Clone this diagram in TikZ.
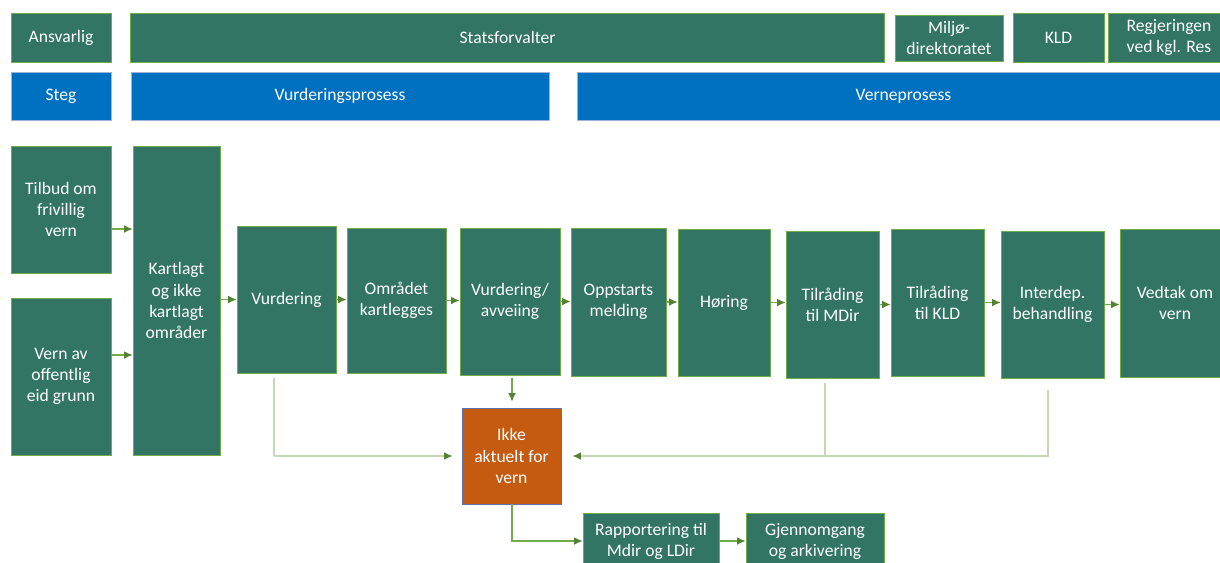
\documentclass[tikz,border=0pt]{standalone}
\usepackage{fontspec}
\setmainfont{Carlito}
\usepackage{tikz}
\usetikzlibrary{arrows.meta}

\definecolor{mgreen}{HTML}{327564}
\definecolor{lgreen}{HTML}{70AD47}
\definecolor{tipgreen}{HTML}{548235}
\definecolor{palegreen}{HTML}{C3DAB4}
\definecolor{mblue}{HTML}{0070C0}
\definecolor{lblue}{HTML}{9DB5D9}
\definecolor{morange}{HTML}{C55A11}
\definecolor{oborder}{HTML}{5B74B0}

\begin{document}
\begin{tikzpicture}[x=0.025cm, y=-0.025cm,
	box/.style = {draw=lgreen, fill=mgreen, text=white, inner sep=1pt, align=center, line width=0.6pt, font=\fontsize{12.5}{15}\selectfont},
	bluebox/.style = {box, draw=lblue, fill=mblue},
	pil/.style = {-{Latex[length=6pt,width=5.5pt,color=tipgreen]}, draw=lgreen, line width=0.8pt},
	tilbake/.style = {draw=palegreen, line width=1pt}
	]
	\clip (0,0) rectangle (1220,562);
	%ANSVARLIG
	\node[box, minimum width=2.5cm, minimum height=1.225cm] (@ansv) at (61,37.5) {Ansvarlig};
	\node[box, minimum width=18.825cm, minimum height=1.225cm] (@stats) at (507.5,37.5) {Statsforvalter};
	\node[box, minimum width=2.7cm, minimum height=1.15cm] (@mdir) at (949,38) {Miljø-\\direktoratet};
	\node[box, minimum width=2.275cm, minimum height=1.225cm] (@kld) at (1058.5,37.5) {KLD};
	\node[box, minimum width=3.05cm, minimum height=1.225cm] (@regj) at (1169,37.5) {Regjeringen\\ved kgl. Res};
	%STEG
	\node[bluebox, minimum width=2.5cm, minimum height=1.2cm] (@steg) at (61,96) {Steg};
	\node[bluebox, minimum width=10.45cm, minimum height=1.2cm] (@vurdp) at (340,96) {Vurderingsprosess};
	\node[bluebox, minimum width=16.325cm, minimum height=1.2cm] (@verne) at (903.5,96) {Verneprosess};
	%INNGANG
	\node[box, minimum width=2.5cm, minimum height=3.175cm] (@tilbud) at (61,209.5) {Tilbud om\\frivillig\\vern};
	\node[box, minimum width=2.5cm, minimum height=3.925cm] (@offent) at (61,376.5) {Vern av\\offentlig\\eid grunn};
	\node[box, minimum width=2.175cm, minimum height=7.725cm] (@kart) at (176.5,300.5) {Kartlagt\\og ikke\\kartlagt\\områder};
	%PROSESS
	\node[box, minimum width=2.475cm, minimum height=3.675cm] (@vurd) at (286.5,299.5) {Vurdering};
	\node[box, minimum width=2.475cm, minimum height=3.625cm] (@omr) at (396.5,300.5) {Området\\kartlegges};
	\node[box, minimum width=2.5cm, minimum height=3.675cm] (@avv) at (510,301.5) {Vurdering/\\avveiing};
	\node[box, minimum width=2.375cm, minimum height=3.7cm] (@opp) at (618.5,302) {Oppstarts\\melding};
	\node[box, minimum width=2.3cm, minimum height=3.675cm] (@hor) at (724,302.5) {Høring};
	\node[box, minimum width=2.325cm, minimum height=3.675cm] (@tmdir) at (832.5,304.5) {Tilråding\\til MDir};
	\node[box, minimum width=2.325cm, minimum height=3.675cm] (@tkld) at (937.5,302.5) {Tilråding\\til KLD};
	\node[box, minimum width=2.575cm, minimum height=3.675cm] (@inter) at (1052.5,304.5) {Interdep.\\behandling};
	\node[box, minimum width=2.75cm, minimum height=3.7cm] (@vedtak) at (1175,303) {Vedtak om\\vern};
	%IKKE AKTUELT
	\node[box, draw=oborder, fill=morange, minimum width=2.475cm, minimum height=2.4cm] (@ikke) at (511.5,456) {Ikke\\aktuelt for\\vern};
	\node[box, minimum width=3.4cm, minimum height=1.4cm] (@rapp) at (651,541) {Rapportering til\\Mdir og LDir};
	\node[box, minimum width=3.45cm, minimum height=1.4cm] (@gjenn) at (815,541) {Gjennomgang\\og arkivering};
	%Piler inn
	\draw[pil] (@tilbud.east |- 0,229) -- (@kart.west |- 0,229);
	\draw[pil] (@offent.east |- 0,355) -- (@kart.west |- 0,355);
	\draw[pil] (@kart.east |- @vurd) -- (@vurd.west);
	%Piler i rekka
	\foreach \a/\b in {vurd/omr, omr/avv, avv/opp, opp/hor, hor/tmdir, tmdir/tkld, tkld/inter, inter/vedtak}
		\draw[pil] (@\a.east) -- (@\a.east -| @\b.west);
	%Tilbake til ikke aktuelt
	\coordinate (@v1) at (274,378);
	\coordinate (@m1) at (825,383);
	\coordinate (@i1) at (1048,390);
	\draw[tilbake] (@v1) -- (@v1 |- @ikke);
	\draw[pil, draw=palegreen, line width=1pt, shorten >=0.225cm] (@v1 |- @ikke) -- (@ikke.west);
	\draw[tilbake] (@m1) -- (@m1 |- @ikke);
	\draw[pil, draw=palegreen, line width=1pt, shorten >=0.275cm] (@i1) |- (@ikke.east);
	\draw[pil, shorten <=0.075cm, shorten >=0.15cm] (@avv.south -| 512,0) -- (@ikke.north -| 512,0);
	%Rapportering
	\draw[pil] (@ikke.south -| 512,0) |- (@rapp.west);
	\draw[pil] (@rapp.east) -- (@gjenn.west);
\end{tikzpicture}
\end{document}
